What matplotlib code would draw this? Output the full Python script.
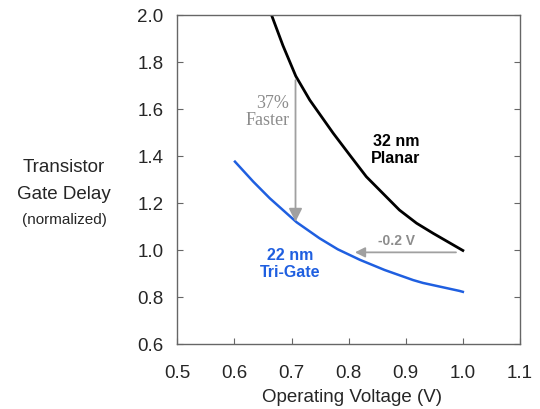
import matplotlib

matplotlib.use("Agg")
import matplotlib.pyplot as plt

# 32 nm planar curve
planar_v = [0.665, 0.685, 0.7075, 0.732, 0.773, 0.802, 0.831, 0.860, 0.889, 0.919, 0.948, 1.000]
planar_delay = [2.0, 1.87, 1.74, 1.638, 1.497, 1.404, 1.312, 1.241, 1.170, 1.114, 1.071, 0.998]

# 22 nm tri-gate curve
trigate_v = [0.601, 0.633, 0.662, 0.709, 0.749, 0.781, 0.820, 0.863, 0.913, 0.930, 0.994, 1.000]
trigate_delay = [1.376, 1.291, 1.220, 1.118, 1.050, 1.003, 0.958, 0.915, 0.872, 0.860, 0.826, 0.822]

x_ticks = [0.5, 0.6, 0.7, 0.8, 0.9, 1.0, 1.1]
y_ticks = [0.6, 0.8, 1.0, 1.2, 1.4, 1.6, 1.8, 2.0]

BLUE = "#1f5fe0"
GRAY = "#a0a0a0"
TEXT = "#262626"

plt.rcParams["font.family"] = ["Liberation Sans", "DejaVu Sans"]

fig = plt.figure(figsize=(5.4, 4.09), dpi=100)
ax = fig.add_axes([0.3283, 0.1589, 0.6346, 0.8044])

ax.plot(planar_v, planar_delay, color="black", lw=2.0)
ax.plot(trigate_v, trigate_delay, color=BLUE, lw=1.8)

# 37% faster arrow
ax.annotate(
    "", xy=(0.707, 1.12), xytext=(0.707, 1.723),
    arrowprops=dict(arrowstyle="-|>", color=GRAY, lw=1.3, mutation_scale=20,
                    shrinkA=0, shrinkB=0),
)
ax.text(0.696, 1.587, "37%\nFaster", color="#8c8c8c", ha="right", va="center",
        family="Liberation Serif", fontsize=13, linespacing=1.05)

# -0.2 V arrow
ax.annotate(
    "", xy=(0.811, 0.99), xytext=(0.988, 0.99),
    arrowprops=dict(arrowstyle="-|>", color=GRAY, lw=1.3, mutation_scale=15,
                    shrinkA=0, shrinkB=0),
)
ax.text(0.884, 1.037, "-0.2 V", color="#8c8c8c", ha="center", va="center",
        fontsize=10, fontweight="bold")

ax.text(0.883, 1.426, "32 nm\nPlanar", color="black", ha="center", va="center",
        fontsize=11.5, fontweight="bold", linespacing=1.15)
ax.text(0.697, 0.942, "22 nm\nTri-Gate", color=BLUE, ha="center", va="center",
        fontsize=11.5, fontweight="bold", linespacing=1.15)

ax.set_xlim(0.5, 1.1)
ax.set_ylim(0.6, 2.0)
ax.set_xticks(x_ticks)
ax.set_yticks(y_ticks)
ax.set_xticklabels([f"{v:.1f}" for v in x_ticks])
ax.set_yticklabels([f"{v:.1f}" for v in y_ticks])
ax.tick_params(direction="in", length=4, width=0.8, colors="#666666",
               labelcolor=TEXT, labelsize=13.5, right=True)
ax.tick_params(axis="x", pad=15)
ax.tick_params(axis="y", pad=10)
for spine in ax.spines.values():
    spine.set_color("#666666")
    spine.set_linewidth(1.0)

fig.text(352 / 540, 1 - 397 / 409, "Operating Voltage (V)", ha="center", va="center",
         fontsize=13.5, color=TEXT)

fig.text(64 / 540, 1 - 167 / 409, "Transistor", ha="center", va="center",
         fontsize=13.5, color=TEXT)
fig.text(64 / 540, 1 - 194 / 409, "Gate Delay", ha="center", va="center",
         fontsize=13.5, color=TEXT)
fig.text(64 / 540, 1 - 220 / 409, "(normalized)", ha="center", va="center",
         fontsize=11, color=TEXT)

fig.savefig("out.png", dpi=100)
